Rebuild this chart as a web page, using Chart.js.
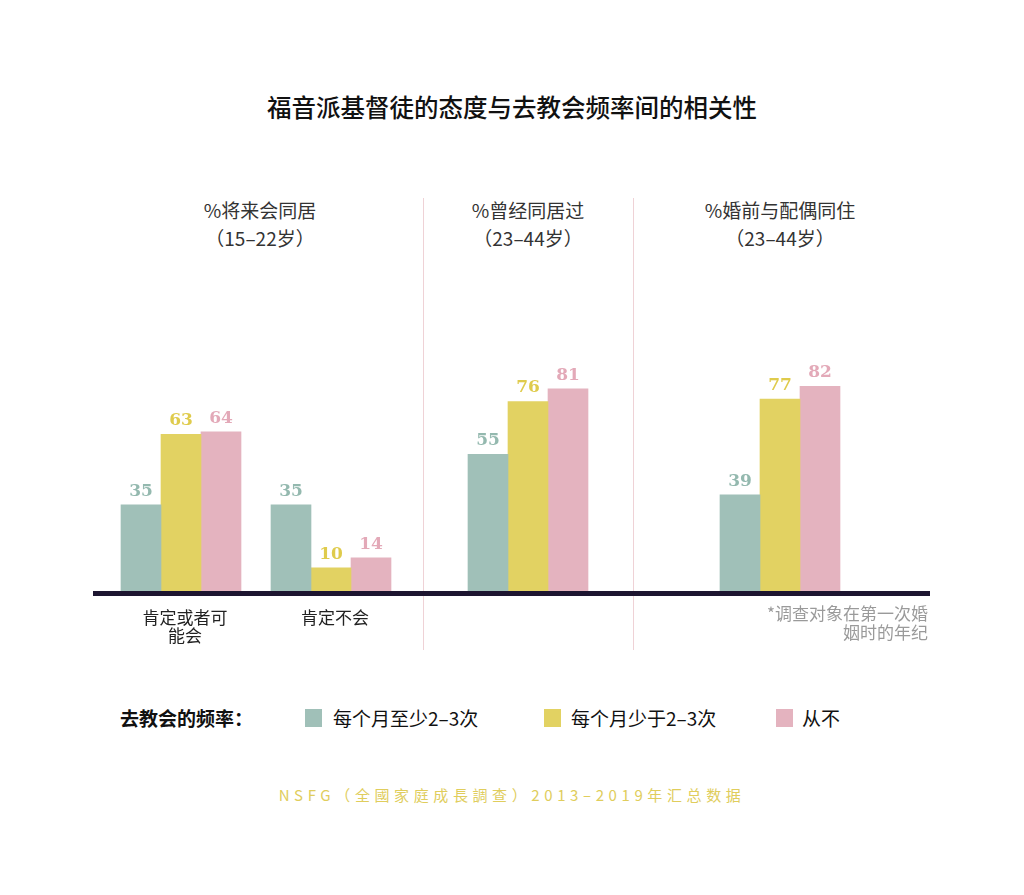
<!DOCTYPE html>
<html lang="zh">
<head>
  <meta charset="UTF-8" />
  <title>福音派基督徒的态度与去教会频率间的相关性</title>
  <script src="https://cdn.jsdelivr.net/npm/chart.js"></script>
  <style>
    body { margin: 0; background: #fff; font-family: "Noto Sans CJK SC", "Noto Sans", sans-serif; }
    #wrap { position: relative; width: 1024px; height: 895px; overflow: hidden; }
    h1 { position: absolute; left: 0; width: 1024px; top: 90px; margin: 0; text-align: center;
         font-size: 24.5px; font-weight: 500; color: #111; line-height: 34px; }
    .ptitle { position: absolute; top: 196px; width: 240px; text-align: center; font-size: 19px;
              line-height: 28px; color: #333; }
    .divider { position: absolute; top: 198px; width: 1px; height: 452px; background: #efd2d6; }
    canvas { position: absolute; }
    .note { position: absolute; right: 96px; top: 603px; text-align: right; color: #9a9a9a;
            font-size: 17px; line-height: 19px; }
    .legend { position: absolute; top: 704px; font-size: 19px; line-height: 28px; color: #111; }
    .sw { position: absolute; top: 709px; width: 17px; height: 18px; }
    .source { position: absolute; left: 0; width: 1024px; top: 783px; text-align: center;
              font-size: 15px; letter-spacing: 4.6px; color: #e0cd5c; line-height: 24px; }
  </style>
</head>
<body>
<div id="wrap">
  <h1>福音派基督徒的态度与去教会频率间的相关性</h1>

  <div class="ptitle" style="left:140px">%将来会同居<br>（15–22岁）</div>
  <div class="ptitle" style="left:408px">%曾经同居过<br>（23–44岁）</div>
  <div class="ptitle" style="left:660px">%婚前与配偶同住<br>（23–44岁）</div>

  <div class="divider" style="left:423px"></div>
  <div class="divider" style="left:633px"></div>

  <canvas id="c1" style="left:93px;top:300px" width="330" height="355"></canvas>
  <canvas id="c2" style="left:423px;top:300px" width="210" height="355"></canvas>
  <canvas id="c3" style="left:633px;top:300px" width="297" height="355"></canvas>

  <div class="note">*调查对象在第一次婚<br>姻时的年纪</div>

  <div class="legend" style="left:120px;font-weight:700">去教会的频率：</div>
  <div class="sw" style="left:305px;background:#a0c0b8"></div>
  <div class="legend" style="left:333px">每个月至少2–3次</div>
  <div class="sw" style="left:544px;background:#e2d262"></div>
  <div class="legend" style="left:571px">每个月少于2–3次</div>
  <div class="sw" style="left:776px;background:#e4b3bf"></div>
  <div class="legend" style="left:802px">从不</div>

  <div class="source">NSFG（全國家庭成長調查）2013–2019年汇总数据</div>
</div>

<script>
  // series names (legend)
  const seriesNames = ['每个月至少2–3次', '每个月少于2–3次', '从不'];
  const barColors = ['#a0c0b8', '#e2d262', '#e4b3bf'];
  const labelColors = ['#94b9af', '#dfcb4c', '#e3a9b8'];

  // panel 1: % 将来会同居 (15-22岁)
  const p1Labels = [['肯定或者可', '能会'], ['肯定不会']];
  const p1Monthly = [35, 35];
  const p1Less = [63, 10];
  const p1Never = [64, 14];

  // panel 2: % 曾经同居过 (23-44岁)
  const p2Labels = [''];
  const p2Monthly = [55];
  const p2Less = [76];
  const p2Never = [81];

  // panel 3: % 婚前与配偶同住 (23-44岁)
  const p3Labels = [''];
  const p3Monthly = [39];
  const p3Less = [77];
  const p3Never = [82];

  const extras = {
    id: 'extras',
    afterDatasetsDraw(chart) {
      const ctx = chart.ctx;
      const y0 = chart.scales.y.getPixelForValue(0);
      // value labels
      ctx.save();
      ctx.font = 'bold 17px "DejaVu Serif", serif';
      ctx.textAlign = 'center';
      ctx.textBaseline = 'alphabetic';
      chart.data.datasets.forEach((ds, i) => {
        chart.getDatasetMeta(i).data.forEach((bar, j) => {
          ctx.fillStyle = labelColors[i];
          ctx.fillText(ds.data[j], bar.x, bar.y - 9);
        });
      });
      // baseline
      ctx.fillStyle = '#1d1530';
      ctx.fillRect(0, y0 - 2, chart.width, 5);
      // category labels
      ctx.font = '17px "Noto Sans CJK SC", sans-serif';
      ctx.fillStyle = '#222';
      ctx.textBaseline = 'middle';
      chart.data.labels.forEach((lab, j) => {
        const lines = Array.isArray(lab) ? lab : [lab];
        const x = chart.scales.x.getPixelForValue(j);
        lines.forEach((t, k) => ctx.fillText(t, x + 4, y0 + 25 + k * 18));
      });
      ctx.restore();
    }
  };

  function makePanel(id, labels, a, b, c, pad) {
    return new Chart(document.getElementById(id), {
      type: 'bar',
      data: {
        labels: labels,
        datasets: [a, b, c].map((d, i) => ({
          label: seriesNames[i], data: d, backgroundColor: barColors[i],
          borderWidth: 0, barThickness: 40
        }))
      },
      options: {
        responsive: false,
        animation: false,
        layout: { padding: { top: 41, bottom: 62, left: pad[0], right: pad[1] } },
        scales: {
          x: { display: false },
          y: { display: false, min: 0, max: 100 }
        },
        plugins: { legend: { display: false }, tooltip: { enabled: false } }
      },
      plugins: [extras]
    });
  }

  makePanel('c1', p1Labels, p1Monthly, p1Less, p1Never, [13, 17]);
  makePanel('c2', p2Labels, p2Monthly, p2Less, p2Never, [0, 0]);
  makePanel('c3', p3Labels, p3Monthly, p3Less, p3Never, [0, 3]);
</script>
</body>
</html>
